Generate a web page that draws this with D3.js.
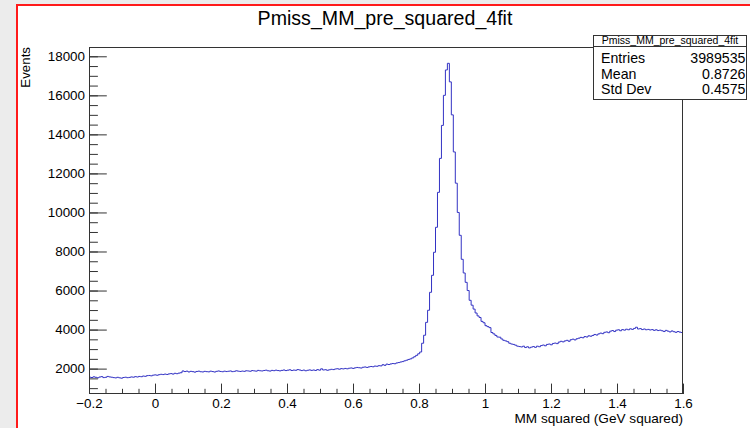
<!DOCTYPE html>
<html>
<head>
<meta charset="utf-8">
<script src="https://cdn.jsdelivr.net/npm/d3@7"></script>
<style>
  html, body { margin: 0; padding: 0; background: #ececec; }
  svg { display: block; font-family: "Liberation Sans", Arial, Helvetica, sans-serif; }
</style>
</head>
<body>
<svg id="chart" width="750" height="428"></svg>
<script>
// ---------------- DATA ----------------
const chartTitle = "Pmiss_MM_pre_squared_4fit";
const xAxisTitle = "MM squared (GeV squared)";
const yAxisTitle = "Events";
const xRange = [-0.2, 1.6];      // histogram range
const nBins = 300;
const yRange = [700, 18476];     // displayed y range

// bin contents (300 bins)
const counts = [
  // -0.2 .. 0.082
  1560,1545,1580,1555,1530,1570,1590,1540,1555,1600,
  1575,1560,1540,1525,1555,1530,1510,1545,1560,1535,
  1550,1575,1560,1590,1570,1600,1585,1620,1605,1640,
  1650,1630,1665,1680,1660,1690,1710,1695,1720,1700,
  1730,1745,1720,1760,1740,1770,1790,
  // 0.082 .. 0.526
  1880,1850,1870,1830,1860,1845,1820,1855,1870,1840,
  1830,1860,1845,1835,1870,1850,1825,1860,1880,1855,
  1840,1870,1850,1865,1880,1845,1860,1890,1870,1855,
  1875,1860,1890,1880,1865,1900,1885,1870,1910,1890,
  1880,1905,1920,1890,1875,1910,1895,1920,1900,1885,
  1910,1930,1900,1920,1940,1905,1925,1915,1950,1930,
  1900,1925,1890,1915,1935,1910,1930,1905,1950,1920,
  1990,1930,1945,1915,
  // 0.526 .. 0.802
  1940,1965,1950,1980,1995,1970,2000,1985,2010,1990,
  2020,2035,2010,2040,2060,2045,2030,2070,2085,2060,
  2090,2110,2095,2130,2120,2150,2140,2200,2170,2230,
  2210,2240,2260,2250,2290,2310,2340,2360,2400,2430,
  2470,2500,2550,2610,2680,2760,
  // peak, rising side
  2850,3300,3710,4370,4990,5910,6780,7960,9240,11030,12770,14460,16000,17300,17640,
  // falling side and tail
  16690,15000,13100,11500,10000,8830,7600,6900,6420,6000,
  5500,5250,5050,4850,4700,4620,4420,4350,4200,4150,
  4100,3850,3780,3700,3620,3610,3520,3450,3420,3380,
  3300,3260,3240,3200,3150,3130,3110,3150,3080,3120,
  3060,3100,3130,3090,3150,3120,3180,3210,3170,3240,
  3260,3220,3290,3310,3280,3360,3400,3370,3420,3450,
  3400,3480,3510,3470,3530,3560,3600,3580,3640,3620,
  3680,3660,3700,3750,3720,3780,3820,3790,3860,3880,
  3840,3920,3950,3900,3970,3990,3940,4000,3970,4020,
  3990,4040,4010,4060,4120,4030,4050,4000,4030,3990,
  4010,3980,4000,3960,3990,3950,3970,3940,3900,3960,
  3920,3880,3930,3890,3860,3900,3870,3850
];

const xTicks = [-0.2, 0, 0.2, 0.4, 0.6, 0.8, 1, 1.2, 1.4, 1.6];
const xTickLabels = ["\u22120.2", "0", "0.2", "0.4", "0.6", "0.8", "1", "1.2", "1.4", "1.6"];
const yTicks = [2000, 4000, 6000, 8000, 10000, 12000, 14000, 16000, 18000];
const yTickLabels = ["2000", "4000", "6000", "8000", "10000", "12000", "14000", "16000", "18000"];
const xMinorStep = 0.05;
const yMinorStep = 500;

const statsTitle = "Pmiss_MM_pre_squared_4fit";
const statsNames = ["Entries", "Mean", "Std Dev"];
const statsValues = ["3989535", "0.8726", "0.4575"];

// ---------------- LAYOUT ----------------
const frame = { l: 89, r: 683, t: 47, b: 394 };
const axisColor = "#333";
const lineColor = "#3333c4";

const svg = d3.select("#chart");

// canvas background + red border
svg.append("rect").attr("x", 0).attr("y", 0).attr("width", 750).attr("height", 428).attr("fill", "#ececec");
svg.append("rect").attr("x", 17).attr("y", 5).attr("width", 760).attr("height", 440)
  .attr("fill", "#ffffff").attr("stroke", "#ff1a1a").attr("stroke-width", 2);

const x = d3.scaleLinear().domain(xRange).range([frame.l, frame.r]);
const y = d3.scaleLinear().domain(yRange).range([frame.b, frame.t]);

// clip
svg.append("clipPath").attr("id", "clip").append("rect")
  .attr("x", frame.l).attr("y", frame.t).attr("width", frame.r - frame.l).attr("height", frame.b - frame.t);

// histogram
const bw = (xRange[1] - xRange[0]) / nBins;
const pts = counts.map((v, i) => [xRange[0] + i * bw, v]);
pts.push([xRange[1], counts[counts.length - 1]]);
const line = d3.line().x(d => x(d[0])).y(d => y(d[1])).curve(d3.curveStepAfter);
svg.append("path").attr("clip-path", "url(#clip)")
  .attr("d", line(pts)).attr("fill", "none").attr("stroke", lineColor).attr("stroke-width", 1);

// axes
const xMinor = d3.range(Math.round(xRange[0] / xMinorStep), Math.round(xRange[1] / xMinorStep) + 1).map(k => k * xMinorStep);
const yMinor = d3.range(1000, yRange[1], yMinorStep);

const gxMinor = svg.append("g").attr("transform", `translate(0,${frame.b})`)
  .call(d3.axisBottom(x).tickValues(xMinor).tickSize(-5.2).tickFormat(""));
const gx = svg.append("g").attr("transform", `translate(0,${frame.b})`)
  .call(d3.axisBottom(x).tickValues(xTicks).tickSize(-10.4).tickPadding(4)
    .tickFormat((d, i) => xTickLabels[i]));
const gyMinor = svg.append("g").attr("transform", `translate(${frame.l},0)`)
  .call(d3.axisLeft(y).tickValues(yMinor).tickSize(-8.9).tickFormat(""));
const gy = svg.append("g").attr("transform", `translate(${frame.l},0)`)
  .call(d3.axisLeft(y).tickValues(yTicks).tickSize(-17.8).tickPadding(4)
    .tickFormat((d, i) => yTickLabels[i]));

[gxMinor, gx, gyMinor, gy].forEach(g => {
  g.select(".domain").remove();
  g.selectAll("line").attr("stroke", axisColor);
  g.selectAll("text").attr("fill", "#000").attr("font-size", "13.4px")
    .attr("font-family", "Liberation Sans, Arial, Helvetica, sans-serif");
});

// frame
svg.append("rect").attr("x", frame.l + 0.5).attr("y", frame.t + 0.5)
  .attr("width", frame.r - frame.l - 1).attr("height", frame.b - frame.t - 1)
  .attr("fill", "none").attr("stroke", axisColor).attr("stroke-width", 1);

// titles
svg.append("text").attr("x", 385).attr("y", 25).attr("text-anchor", "middle")
  .attr("font-size", "19.6px").attr("fill", "#000").text(chartTitle);
svg.append("text").attr("x", frame.r).attr("y", 422.5).attr("text-anchor", "end")
  .attr("font-size", "13.6px").attr("fill", "#000").text(xAxisTitle);
svg.append("text").attr("transform", `translate(30,${frame.t}) rotate(-90)`).attr("text-anchor", "end")
  .attr("font-size", "13.3px").attr("fill", "#000").text(yAxisTitle);

// stats box
const sb = { x: 593.5, y: 35.5, w: 153, h: 64, head: 11 };
const gs = svg.append("g");
gs.append("rect").attr("x", sb.x).attr("y", sb.y).attr("width", sb.w).attr("height", sb.h)
  .attr("fill", "#fff").attr("stroke", axisColor).attr("stroke-width", 1);
gs.append("line").attr("x1", sb.x).attr("x2", sb.x + sb.w).attr("y1", sb.y + sb.head).attr("y2", sb.y + sb.head)
  .attr("stroke", axisColor);
gs.append("text").attr("x", sb.x + sb.w / 2).attr("y", sb.y + 8.8).attr("text-anchor", "middle")
  .attr("font-size", "10.5px").attr("fill", "#000").text(statsTitle);
const rowBase = [63, 78.6, 94];
statsNames.forEach((n, i) => {
  gs.append("text").attr("x", 601).attr("y", rowBase[i]).attr("font-size", "14.2px").attr("fill", "#000").text(n);
  gs.append("text").attr("x", 745.5).attr("y", rowBase[i]).attr("text-anchor", "end")
    .attr("font-size", "14.2px").attr("fill", "#000").text(statsValues[i]);
});
</script>
</body>
</html>
